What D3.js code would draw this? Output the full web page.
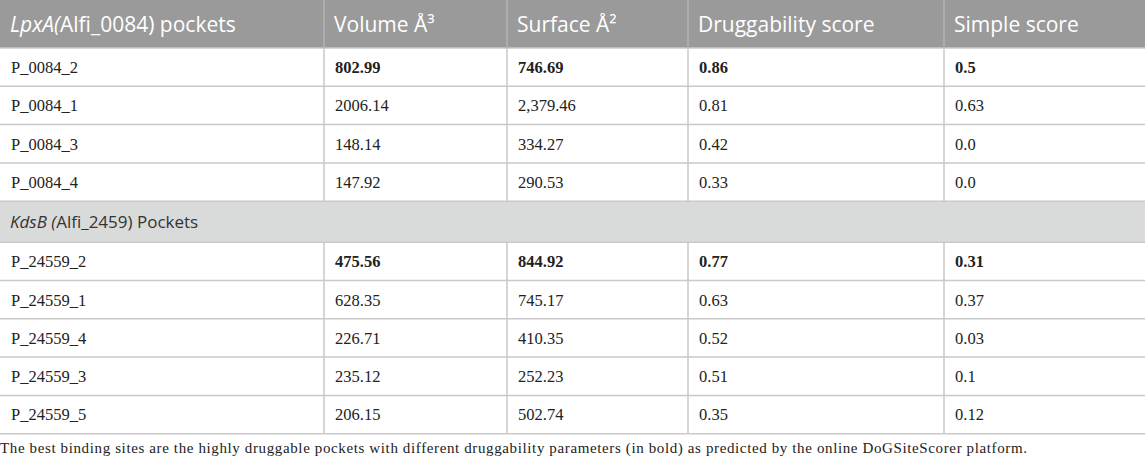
<!DOCTYPE html>
<html><head><meta charset="utf-8">
<script src="https://cdn.jsdelivr.net/npm/d3@7"></script>
<style>html,body{margin:0;padding:0;background:#fff;}</style>
</head><body>
<svg id="t" width="1145" height="460"></svg>
<script>
const headers = ["LpxA(Alfi_0084) pockets", "Volume Å³", "Surface Å²", "Druggability score", "Simple score"];
const groupLabel = "KdsB (Alfi_2459) Pockets";
const pocketsA = ["P_0084_2", "P_0084_1", "P_0084_3", "P_0084_4"];
const volumeA = ["802.99", "2006.14", "148.14", "147.92"];
const surfaceA = ["746.69", "2,379.46", "334.27", "290.53"];
const druggA = ["0.86", "0.81", "0.42", "0.33"];
const simpleA = ["0.5", "0.63", "0.0", "0.0"];
const pocketsB = ["P_24559_2", "P_24559_1", "P_24559_4", "P_24559_3", "P_24559_5"];
const volumeB = ["475.56", "628.35", "226.71", "235.12", "206.15"];
const surfaceB = ["844.92", "745.17", "410.35", "252.23", "502.74"];
const druggB = ["0.77", "0.63", "0.52", "0.51", "0.35"];
const simpleB = ["0.31", "0.37", "0.03", "0.1", "0.12"];
const footnote = "The best binding sites are the highly druggable pockets with different druggability parameters (in bold) as predicted by the online DoGSiteScorer platform.";

const svg = d3.select("#t");
const colX = [0, 324, 507, 688, 944, 1145];
const lineCol = "#c9c9c9";
const sans = "'Open Sans', 'Noto Sans', sans-serif";
const serif = "'Liberation Serif', 'DejaVu Serif', serif";

const rows = [];
rows.push({type: "header", h: 48});
pocketsA.forEach((p, i) => rows.push({type: "data", h: 38.3, vals: [p, volumeA[i], surfaceA[i], druggA[i], simpleA[i]], bold: i === 0}));
rows.push({type: "group", h: 41});
pocketsB.forEach((p, i) => rows.push({type: "data", h: 38.3, vals: [p, volumeB[i], surfaceB[i], druggB[i], simpleB[i]], bold: i === 0}));
let y = 0;
rows.forEach(r => { r.y = y; y += r.h; });
const tableBottom = y;

svg.selectAll("rect.bg").data(rows.filter(r => r.type !== "data")).join("rect")
  .attr("x", 0).attr("y", d => d.y).attr("width", 1145).attr("height", d => d.h)
  .attr("fill", d => d.type === "header" ? "#9a9a9a" : "#d9dada");

svg.selectAll("line.h").data(rows.slice(1).map(r => r.y).concat([tableBottom])).join("line")
  .attr("x1", 0).attr("x2", 1145).attr("y1", d => d).attr("y2", d => d)
  .attr("stroke", lineCol).attr("stroke-width", 1.5);

rows.forEach(r => {
  if (r.type === "group") return;
  colX.slice(1, 5).forEach(x => {
    svg.append("line").attr("x1", x).attr("x2", x).attr("y1", r.y).attr("y2", r.y + r.h)
      .attr("stroke", r.type === "header" ? "#b3b3b3" : lineCol).attr("stroke-width", 1.5);
  });
});

const hdr = rows[0];
headers.forEach((h, i) => {
  const t = svg.append("text").attr("x", colX[i] + 10).attr("y", hdr.y + 32)
    .attr("font-family", sans).attr("font-size", 21).attr("fill", "#fff");
  if (i === 0) {
    t.append("tspan").attr("font-style", "italic").text("LpxA(");
    t.append("tspan").text("Alfi_0084) pockets");
  } else {
    t.text(h);
  }
});

const g = rows.find(r => r.type === "group");
const gt = svg.append("text").attr("x", 10).attr("y", g.y + 27)
  .attr("font-family", sans).attr("font-size", 17).attr("fill", "#333");
gt.append("tspan").attr("font-style", "italic").text("KdsB (");
gt.append("tspan").text("Alfi_2459) Pockets");

rows.filter(r => r.type === "data").forEach(r => {
  svg.selectAll(null).data(r.vals).join("text")
    .attr("x", (d, i) => colX[i] + 11).attr("y", r.y + 25)
    .attr("font-family", serif).attr("font-size", 16.5).attr("fill", "#222")
    .attr("font-weight", (d, i) => (r.bold && i > 0) ? "bold" : "normal")
    .text(d => d);
});

svg.append("text").attr("x", 0).attr("y", tableBottom + 19)
  .attr("font-family", serif).attr("font-size", 15).attr("fill", "#222")
  .attr("textLength", 1027).attr("lengthAdjust", "spacing").text(footnote);
</script>
</body></html>
